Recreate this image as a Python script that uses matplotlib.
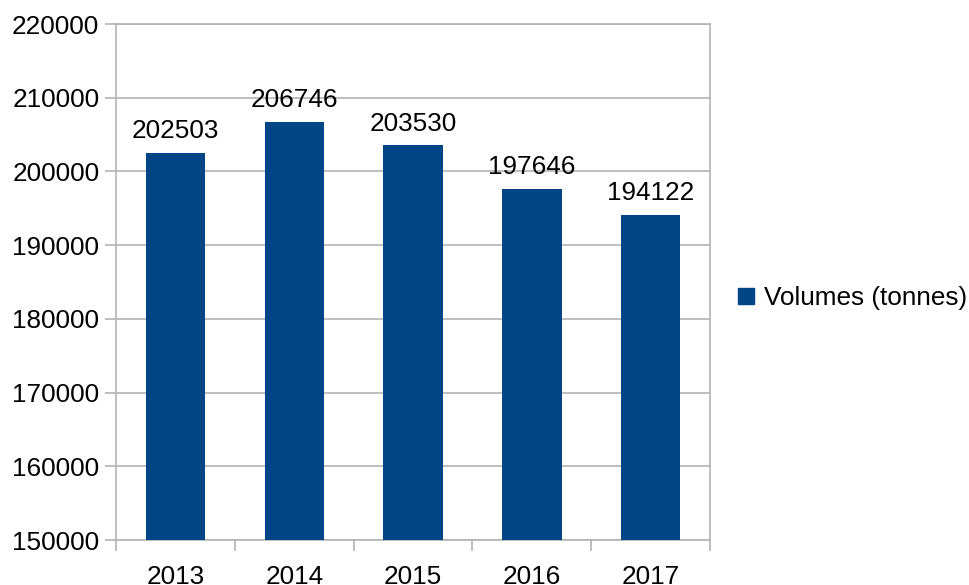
import matplotlib.pyplot as plt
from matplotlib.patches import Patch

years = ['2013', '2014', '2015', '2016', '2017']
volumes = [202503, 206746, 203530, 197646, 194122]
series_name = 'Volumes (tonnes)'
bar_color = '#004586'
grid_color = '#b3b3b3'

plt.rcParams['font.family'] = ['Liberation Sans', 'DejaVu Sans']
fs = 18.8

fig = plt.figure(figsize=(9.7, 5.85), dpi=100)
ax = fig.add_axes([116/970, 45/585, 594/970, 516/585])

x = list(range(len(years)))
bars = ax.bar(x, [v - 150000 for v in volumes], bottom=150000, width=0.5,
              color=bar_color, zorder=3)
for xi, v in zip(x, volumes):
    ax.annotate(str(v), (xi, v), xytext=(0, 7), textcoords='offset points',
                ha='center', va='bottom', fontsize=fs, color='black')

ax.set_xlim(-0.5, len(years) - 0.5)
ax.set_ylim(150000, 220000)
ax.set_yticks(range(150000, 220001, 10000))
ax.set_yticklabels([str(v) for v in range(150000, 220001, 10000)], fontsize=fs)
ax.set_xticks(x)
ax.set_xticklabels(years, fontsize=fs)
ax.set_xticks([i - 0.5 for i in range(len(years) + 1)], minor=True)
ax.tick_params(axis='x', which='major', length=0, pad=18)
ax.tick_params(axis='x', which='minor', length=8, color=grid_color, width=1.2)
ax.tick_params(axis='y', length=8, color=grid_color, width=1.2, pad=4)
ax.yaxis.grid(True, color=grid_color, linewidth=1.2, zorder=0)
for s in ax.spines.values():
    s.set_color(grid_color)
    s.set_linewidth(1.2)

fig.legend(handles=[Patch(color=bar_color, label=series_name)],
           loc='center left', bbox_to_anchor=(738/970, 1 - 298/585),
           frameon=False, fontsize=fs, handlelength=0.6, handleheight=0.6,
           handletextpad=0.4, borderaxespad=0, borderpad=0)

fig.savefig('out.png', dpi=100)
